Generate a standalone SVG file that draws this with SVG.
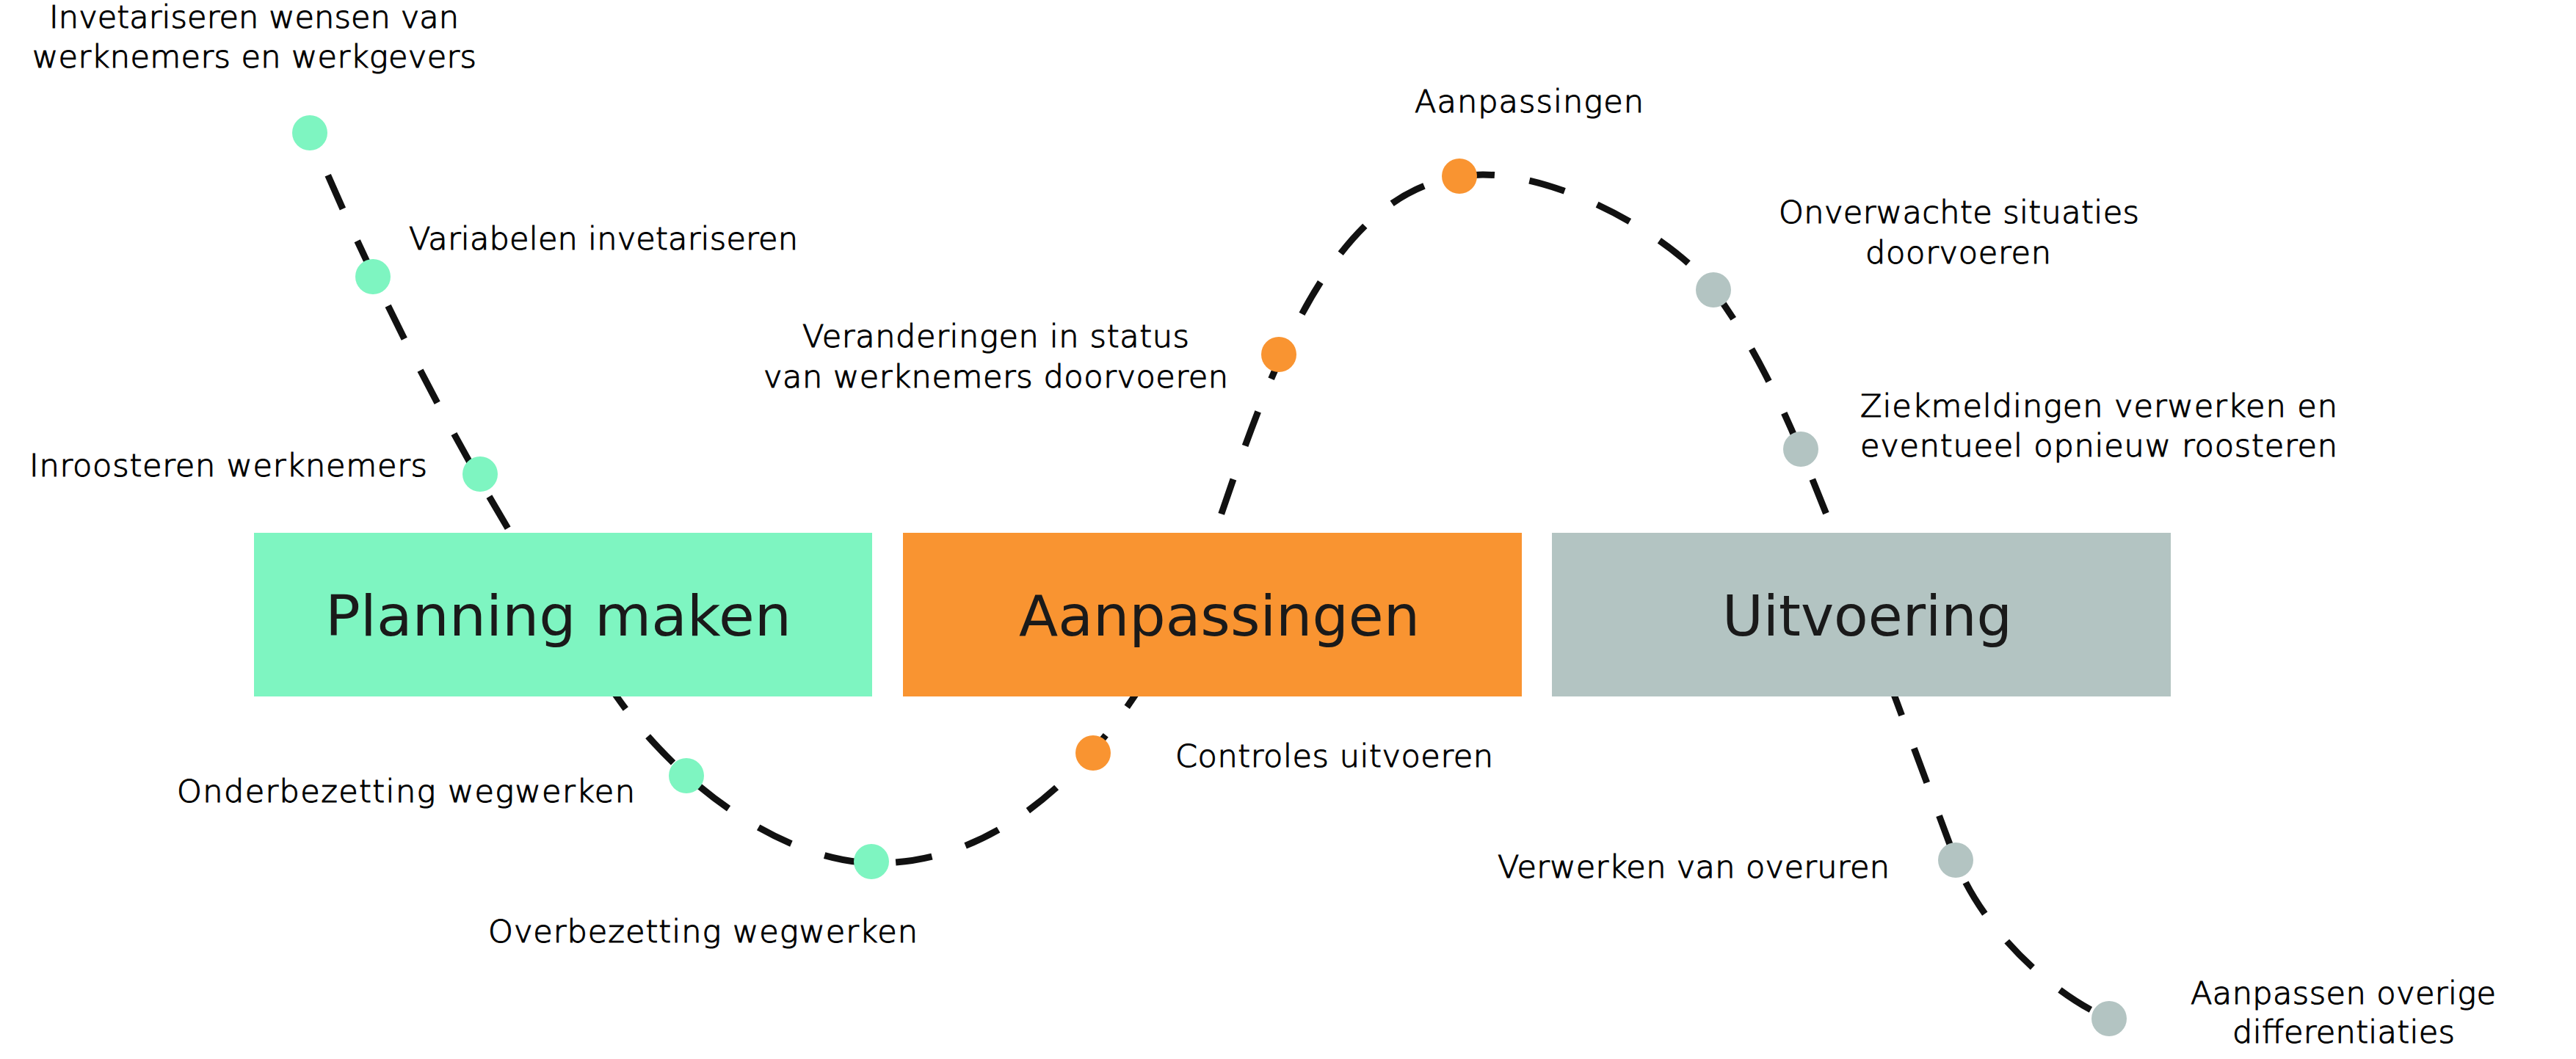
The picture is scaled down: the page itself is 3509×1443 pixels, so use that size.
<svg xmlns="http://www.w3.org/2000/svg" width="3509" height="1443" viewBox="0 0 3509 1443">
<style>
.bg{fill:#ffffff}
.curve{fill:none;stroke:#111111;stroke-width:9;stroke-dasharray:50 48;stroke-dashoffset:35}
.g{fill:#7ef5c1}
.o{fill:#f99431}
.s{fill:#b3c4c2}
.title{font-family:"DejaVu Sans","Liberation Sans",sans-serif;font-size:76px;font-weight:500;fill:#1a1a1a}
.lbl{font-family:"DejaVu Sans","Liberation Sans",sans-serif;font-size:43px;font-weight:200;fill:#000000;stroke:#000000;stroke-width:1.1}
</style>
<rect class="bg" x="0" y="0" width="3509" height="1443"/>
<g id="connectors">
<path class="curve" d="M 422 181 C 529.5 437, 665 700, 840 949 C 931 1079, 1075 1176, 1195 1176 C 1425 1176, 1587 926, 1655 726 C 1733 496, 1820 238, 2020 238 C 2130 238, 2281.8 325, 2334 395 C 2408.5 495, 2454 616, 2498 726 L 2664 1172 C 2697.5 1262, 2793 1354.4, 2873 1388"/>
</g>
<g id="node-planning">
<rect class="g" x="346" y="726" width="842" height="223"/>
<text class="title" x="443" y="866" textLength="635" lengthAdjust="spacingAndGlyphs">Planning maken</text>
</g>
<g id="node-aanpassingen">
<rect class="o" x="1230" y="726" width="843" height="223"/>
<text class="title" x="1388" y="866" textLength="546" lengthAdjust="spacingAndGlyphs">Aanpassingen</text>
</g>
<g id="node-uitvoering">
<rect class="s" x="2114" y="726" width="843" height="223"/>
<text class="title" x="2346" y="866" textLength="395" lengthAdjust="spacingAndGlyphs">Uitvoering</text>
</g>
<g id="step-inventariseren-wensen">
<circle class="g" cx="422" cy="181" r="24"/>
<text class="lbl" x="67" y="38" textLength="558">Invetariseren wensen van</text>
<text class="lbl" x="44" y="92" textLength="605">werknemers en werkgevers</text>
</g>
<g id="step-variabelen">
<circle class="g" cx="508" cy="377" r="24"/>
<text class="lbl" x="557" y="340" textLength="530">Variabelen invetariseren</text>
</g>
<g id="step-inroosteren">
<circle class="g" cx="654" cy="646" r="24"/>
<text class="lbl" x="40" y="649" textLength="542">Inroosteren werknemers</text>
</g>
<g id="step-onderbezetting">
<circle class="g" cx="935" cy="1057" r="24"/>
<text class="lbl" x="241" y="1093" textLength="624">Onderbezetting wegwerken</text>
</g>
<g id="step-overbezetting">
<circle class="g" cx="1187" cy="1174" r="24"/>
<text class="lbl" x="665" y="1284" textLength="585">Overbezetting wegwerken</text>
</g>
<g id="step-controles">
<circle class="o" cx="1489" cy="1026" r="24"/>
<text class="lbl" x="1601" y="1045" textLength="433">Controles uitvoeren</text>
</g>
<g id="step-veranderingen">
<circle class="o" cx="1742" cy="483" r="24"/>
<text class="lbl" x="1093" y="473" textLength="527">Veranderingen in status</text>
<text class="lbl" x="1040" y="528" textLength="633">van werknemers doorvoeren</text>
</g>
<g id="step-aanpassingen">
<circle class="o" cx="1988" cy="240" r="24"/>
<text class="lbl" x="1927" y="153" textLength="312">Aanpassingen</text>
</g>
<g id="step-onverwachte">
<circle class="s" cx="2334" cy="395" r="24"/>
<text class="lbl" x="2423" y="304" textLength="491">Onverwachte situaties</text>
<text class="lbl" x="2541" y="359" textLength="253">doorvoeren</text>
</g>
<g id="step-ziekmeldingen">
<circle class="s" cx="2453" cy="612" r="24"/>
<text class="lbl" x="2534" y="568" textLength="650">Ziekmeldingen verwerken en</text>
<text class="lbl" x="2534" y="622" textLength="650">eventueel opnieuw roosteren</text>
</g>
<g id="step-overuren">
<circle class="s" cx="2664" cy="1172" r="24"/>
<text class="lbl" x="2040" y="1196" textLength="534">Verwerken van overuren</text>
</g>
<g id="step-differentiaties">
<circle class="s" cx="2873" cy="1388" r="24"/>
<text class="lbl" x="2984" y="1368" textLength="416">Aanpassen overige</text>
<text class="lbl" x="3041" y="1421" textLength="303">differentiaties</text>
</g>
</svg>
